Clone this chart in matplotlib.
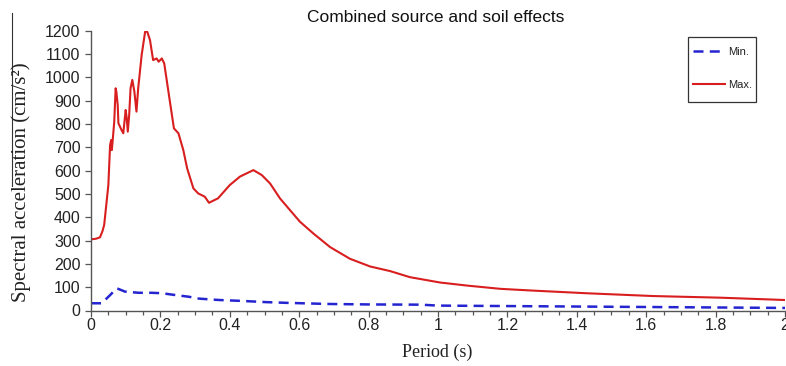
import matplotlib.pyplot as plt
from matplotlib.lines import Line2D
from matplotlib.patches import Rectangle
from matplotlib.ticker import MultipleLocator

# Response spectra (period in s, acceleration in cm/s^2)
period_max = [0, 0.015, 0.026, 0.033, 0.038, 0.050, 0.055, 0.058, 0.060, 0.063,
              0.067, 0.071, 0.073, 0.077, 0.079, 0.088, 0.093, 0.100, 0.103, 0.106,
              0.110, 0.114, 0.119, 0.125, 0.131, 0.136, 0.146, 0.156, 0.162, 0.170,
              0.179, 0.189, 0.195, 0.204, 0.211, 0.226, 0.239, 0.252, 0.266, 0.277,
              0.295, 0.309, 0.328, 0.340, 0.366, 0.400, 0.429, 0.444, 0.468, 0.492,
              0.516, 0.545, 0.602, 0.641, 0.689, 0.746, 0.804, 0.862, 0.919, 1.006,
              1.083, 1.179, 1.265, 1.428, 1.620, 1.813, 2.0]
sa_max = [305, 308, 314, 340, 367, 538, 709, 731, 688, 738,
          810, 953, 939, 881, 803, 774, 760, 860, 824, 767,
          838, 953, 989, 939, 853, 953, 1096, 1196, 1196, 1160,
          1074, 1081, 1067, 1081, 1060, 910, 781, 760, 688, 610,
          524, 502, 488, 462, 481, 538, 574, 585, 602, 581,
          545, 480, 381, 330, 272, 222, 189, 169, 143, 120,
          107, 93, 86, 74, 62, 55, 45]

period_min = [0, 0.031, 0.055, 0.074, 0.078, 0.098, 0.137, 0.175, 0.205, 0.244,
              0.282, 0.311, 0.369, 0.436, 0.503, 0.560, 0.684, 0.80, 0.95, 1.0,
              1.2, 1.4, 1.6, 1.8, 2.0]
sa_min = [31, 31, 66, 95, 93, 81, 76, 76, 74, 66,
          59, 51, 45, 41, 36, 33, 28, 26, 25, 21,
          19, 17, 15, 13, 11]

W, H = 786, 366
fig = plt.figure(figsize=(W / 100, H / 100), dpi=100)
ax = fig.add_axes([91 / W, 1 - 310.5 / H, 694 / W, 279.8 / H])

ax.plot(period_min, sa_min, color='#2424d0', lw=1.8, dashes=(4, 2.5), label='Min.')
ax.plot(period_max, sa_max, color='#d81e1e', lw=1.5, label='Max.')

ax.set_xlim(0, 2)
ax.set_ylim(0, 1200)
ax.xaxis.set_major_locator(MultipleLocator(0.2))
ax.xaxis.set_minor_locator(MultipleLocator(0.05))
ax.yaxis.set_major_locator(MultipleLocator(100))
ax.xaxis.set_major_formatter(lambda v, p: f"{v:g}")

for s in ['top', 'right']:
    ax.spines[s].set_visible(False)
for s in ['left', 'bottom']:
    ax.spines[s].set_color('#555555')
    ax.spines[s].set_linewidth(1.0)

ax.tick_params(axis='both', which='major', direction='out', length=4, width=0.9,
               color='#555555', labelsize=11.5, labelcolor='#222222',
               labelfontfamily='Liberation Sans')
ax.tick_params(axis='x', which='major', pad=1.5)
ax.tick_params(axis='x', which='minor', direction='out', length=3, width=0.9,
               color='#555555')

fig.text(436 / W, 1 - 18 / H, 'Combined source and soil effects', ha='center',
         va='center', fontsize=12.5, family='Liberation Sans', color='#111111')
fig.text(437 / W, 1 - 352 / H, 'Period (s)', ha='center', va='center',
         fontsize=13, family='Liberation Serif', color='#222222')
fig.text(21 / W, 1 - 182 / H, 'Spectral acceleration (cm/s²)', ha='center',
         va='center', rotation=90, fontsize=15, family='Liberation Serif',
         color='#222222')

# thin rule next to the y-axis title
fig.add_artist(Line2D([12 / W, 12 / W], [1 - 13 / H, 1 - 186 / H],
                      transform=fig.transFigure, color='#333333', lw=0.8))

# legend entries without their own frame, boxed separately
leg = ax.legend(loc='upper left', bbox_to_anchor=(693 / W, 1 - 47 / H),
                bbox_transform=fig.transFigure, frameon=False,
                prop={'family': 'Liberation Sans', 'size': 8},
                handlelength=2.9, handletextpad=0.3, labelspacing=2.1,
                borderpad=0, borderaxespad=0)
for t in leg.get_texts():
    t.set_color('#222222')
fig.add_artist(Rectangle((688 / W, 1 - 102 / H), 68 / W, 65 / H,
                         transform=fig.transFigure, fill=False,
                         edgecolor='#333333', lw=0.9))

fig.savefig('out.png', dpi=100)
